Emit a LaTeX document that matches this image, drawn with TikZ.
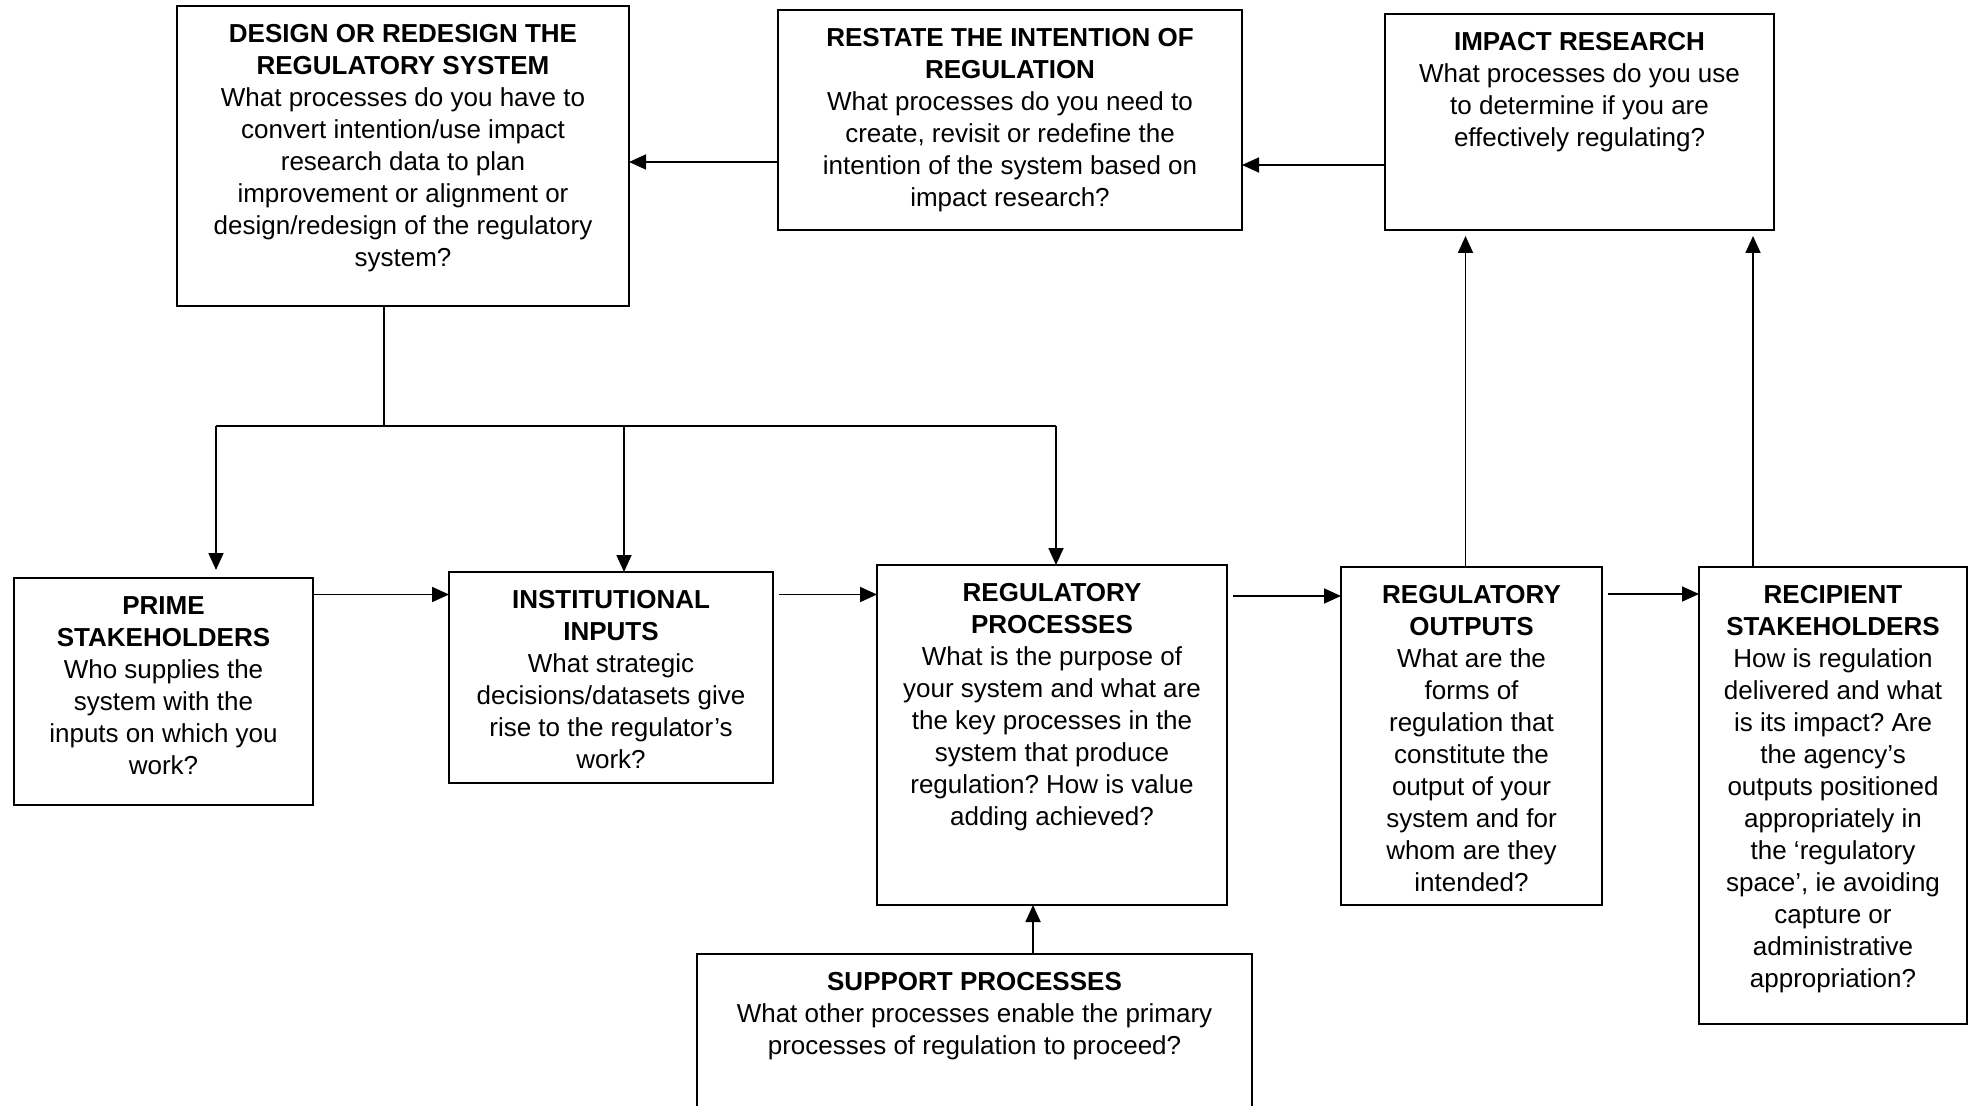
\documentclass[tikz,border=0pt]{standalone}
\usepackage{fontspec}
\setmainfont{Liberation Sans}
\usetikzlibrary{arrows.meta,calc}
\frenchspacing

\begin{document}
\begin{tikzpicture}[x=0.5pt,y=-0.5pt,
    stagebox/.style={draw, line width=0.9pt, inner sep=0pt, outer sep=0pt, anchor=north west},
    stagetext/.style={inner sep=0pt, anchor=north, align=center, font=\fontsize{13pt}{16pt}\selectfont},
    arr/.style={line width=0.9pt, -{Triangle[length=8.5pt,width=7.5pt]}}]
    % Fix the page to the size of the diagram
    \useasboundingbox (0,0) rectangle (1973,1106);

    % Draw the boxes
    \node[stagebox, minimum width=226pt, minimum height=150pt] (design) at (177,6) {};
    \node[stagebox, minimum width=232pt, minimum height=110pt] (restate) at (778,10) {};
    \node[stagebox, minimum width=194.5pt, minimum height=108pt] (impact) at (1385,14) {};
    \node[stagebox, minimum width=149.5pt, minimum height=113.5pt] (prime) at (14,578) {};
    \node[stagebox, minimum width=162pt, minimum height=105.5pt] (inputs) at (449,572) {};
    \node[stagebox, minimum width=175pt, minimum height=170pt] (processes) at (877,565) {};
    \node[stagebox, minimum width=130.5pt, minimum height=169pt] (outputs) at (1341,567) {};
    \node[stagebox, minimum width=134pt, minimum height=228.5pt] (recipient) at (1699,567) {};
    \node[stagebox, minimum width=277.5pt, minimum height=90pt] (support) at (697,954) {};

    % Write the texts at the top of each box
    \node[stagetext] (design text) at ($(design.north)+(0,18)$)
        {\textbf{DESIGN OR REDESIGN THE}\\\textbf{REGULATORY SYSTEM}\\What processes do you have to\\convert intention/use impact\\research data to plan\\improvement or alignment or\\design/redesign of the regulatory\\system?};
    \node[stagetext] (restate text) at ($(restate.north)+(0,18)$)
        {\textbf{RESTATE THE INTENTION OF}\\\textbf{REGULATION}\\What processes do you need to\\create, revisit or redefine the\\intention of the system based on\\impact research?};
    \node[stagetext] (impact text) at ($(impact.north)+(0,18)$)
        {\textbf{IMPACT RESEARCH}\\What processes do you use\\to determine if you are\\effectively regulating?};
    \node[stagetext] (prime text) at ($(prime.north)+(0,18)$)
        {\textbf{PRIME}\\\textbf{STAKEHOLDERS}\\Who supplies the\\system with the\\inputs on which you\\work?};
    \node[stagetext] (inputs text) at ($(inputs.north)+(0,18)$)
        {\textbf{INSTITUTIONAL}\\\textbf{INPUTS}\\What strategic\\decisions/datasets give\\rise to the regulator’s\\work?};
    \node[stagetext] (processes text) at ($(processes.north)+(0,18)$)
        {\textbf{REGULATORY}\\\textbf{PROCESSES}\\What is the purpose of\\your system and what are\\the key processes in the\\system that produce\\regulation? How is value\\adding achieved?};
    \node[stagetext] (outputs text) at ($(outputs.north)+(0,18)$)
        {\textbf{REGULATORY}\\\textbf{OUTPUTS}\\What are the\\forms of\\regulation that\\constitute the\\output of your\\system and for\\whom are they\\intended?};
    \node[stagetext] (recipient text) at ($(recipient.north)+(0,18)$)
        {\textbf{RECIPIENT}\\\textbf{STAKEHOLDERS}\\How is regulation\\delivered and what\\is its impact? Are\\the agency’s\\outputs positioned\\appropriately in\\the ‘regulatory\\space’, ie avoiding\\capture or\\administrative\\appropriation?};
    \node[stagetext] (support text) at ($(support.north)+(0,18)$)
        {\textbf{SUPPORT PROCESSES}\\What other processes enable the primary\\processes of regulation to proceed?};

    % Feedback along the top row
    \draw[arr] ($(restate.west)+(0,42)$) coordinate (a1) -- (a1 -| design.east);
    \draw[arr] ($(impact.west)+(0,43)$) coordinate (a2) -- (a2 -| restate.east);

    % Fork from the design box down to the first three boxes
    \coordinate (forkL) at (216,426);
    \coordinate (forkM) at (624,426);
    \coordinate (forkR) at (1056,426);
    \draw[line width=0.9pt] (design.south -| 384,0) -- (384,426);
    \draw[line width=0.9pt] (forkL) -- (forkR);
    \draw[arr, shorten >=4pt] (forkL) -- (forkL |- prime.north);
    \draw[arr] (forkM) -- (forkM |- inputs.north);
    \draw[arr] (forkR) -- (forkR |- processes.north);

    % Flow along the middle row
    \draw[arr] ($(prime.east)+(0,-97)$) coordinate (a3) -- (a3 -| inputs.west);
    \draw[arr] ($(inputs.east)+(6,-83)$) coordinate (a4) -- (a4 -| processes.west);
    \draw[arr] ($(processes.east)+(6,-139)$) coordinate (a5) -- (a5 -| outputs.west);
    \draw[arr] ($(outputs.east)+(6,-142)$) coordinate (a6) -- (a6 -| recipient.west);

    % Up to the impact research
    \draw[arr, shorten >=3pt] ($(outputs.north)+(-6,0)$) coordinate (a7) -- (a7 |- impact.south);
    \draw[arr, shorten >=3pt] ($(recipient.north)+(-80,0)$) coordinate (a8) -- (a8 |- impact.south);

    % Support feeds the regulatory processes
    \coordinate (a9) at ($(processes.south)+(-19,0)$);
    \draw[arr] (a9 |- support.north) -- (a9);
\end{tikzpicture}
\end{document}
